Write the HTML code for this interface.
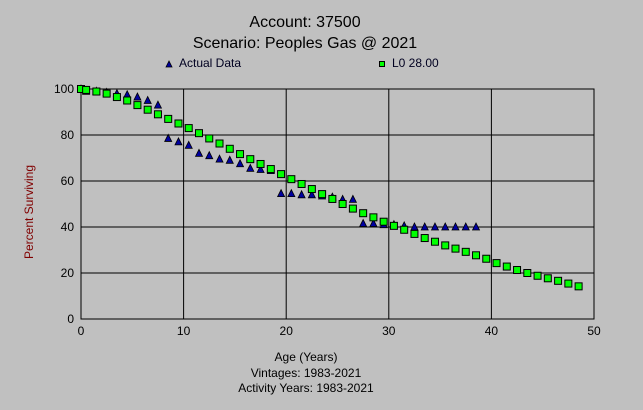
<!DOCTYPE html>
<html><head><meta charset="utf-8"><style>
body{margin:0;background:#c0c0c0;}
svg{display:block;font-family:"Liberation Sans",sans-serif;}
</style></head><body>
<svg id="chart" width="643" height="410" viewBox="0 0 643 410">
<rect width="643" height="410" fill="#c0c0c0"/>
<text x="305" y="27" text-anchor="middle" font-size="16">Account: 37500</text>
<text x="305" y="48" text-anchor="middle" font-size="16">Scenario: Peoples Gas @ 2021</text>
<g>
<g><path d="M166,67 L169,61 L172,67 Z" fill="#0000a0" stroke="#000" stroke-width="0.8"/><text x="179" y="67" font-size="12" fill="#000020">Actual Data</text></g>
<g><rect x="379.5" y="61.5" width="5" height="5" fill="#00ff00" stroke="#000"/><text x="392" y="67" font-size="12" fill="#000020">L0 28.00</text></g>
</g>
<g id="grid"></g>
<g id="marks"></g>
<text transform="translate(33,212) rotate(-90)" text-anchor="middle" font-size="12" fill="#800000">Percent Surviving</text>
<text x="306" y="361" text-anchor="middle" font-size="12">Age (Years)</text>
<text x="306" y="377" text-anchor="middle" font-size="12">Vintages: 1983-2021</text>
<text x="306" y="392" text-anchor="middle" font-size="12">Activity Years: 1983-2021</text>
</svg>
<script>
const xTicks=[0,10,20,30,40,50];
const yTicks=[0,20,40,60,80,100];
const ages=[0,0.5,1.5,2.5,3.5,4.5,5.5,6.5,7.5,8.5,9.5,10.5,11.5,12.5,13.5,14.5,15.5,16.5,17.5,18.5,19.5,20.5,21.5,22.5,23.5,24.5,25.5,26.5,27.5,28.5,29.5,30.5,31.5,32.5,33.5,34.5,35.5,36.5,37.5,38.5,39.5,40.5,41.5,42.5,43.5,44.5,45.5,46.5,47.5,48.5];
const actualData=[100,99,99,98.5,98,97.5,96.5,95,93,78.5,77,75.5,72,71,69.5,69,67.5,65.5,65,64.5,54.5,54.5,54,54,53.5,53,52,52,41.5,41.5,41,41,40.5,40,40,40,40,40,40,40];
const l0Curve=[100,99.6,98.9,98,96.5,95,93,91,89,87,85,83,80.8,78.5,76.3,74,71.7,69.5,67.4,65.2,63,60.8,58.7,56.5,54.3,52.2,50,48,46,44.2,42.3,40.5,38.8,37,35.2,33.6,32,30.6,29.2,27.7,26.2,24.3,22.8,21.3,20,18.8,17.7,16.6,15.4,14.2];
const X0=81,X1=594,Y0=319,Y1=89;
const sx=v=>X0+(v-0)/(50-0)*(X1-X0);
const sy=v=>Y0-(v-0)/(100-0)*(Y0-Y1);
const NS="http://www.w3.org/2000/svg";
const grid=document.getElementById('grid'),marks=document.getElementById('marks');
function mk(tag,attrs,parent){const e=document.createElementNS(NS,tag);for(const k in attrs)e.setAttribute(k,attrs[k]);parent.appendChild(e);return e;}
const frame=mk('rect',{x:X0,y:Y1,width:X1-X0,height:Y0-Y1,fill:'none',stroke:'#000','stroke-width':1},grid);


xTicks.forEach(t=>{
 const l=mk('line',{x1:sx(t),x2:sx(t),y1:Y1,y2:Y0,stroke:'#000','stroke-width':1},grid);
 
 
 const tx=mk('text',{x:sx(t),y:Y0+16,'text-anchor':'middle','font-size':12},grid);tx.textContent=t;
 
 
});
yTicks.forEach(t=>{
 const l=mk('line',{x1:X0,x2:X1,y1:sy(t),y2:sy(t),stroke:'#000','stroke-width':1},grid);
 
 
 const tx=mk('text',{x:X0-7,y:sy(t)+4,'text-anchor':'end','font-size':12},grid);tx.textContent=t;
 
 
});
actualData.forEach((v,i)=>{
 const x=sx(ages[i]),y=sy(v);
 const p=mk('path',{d:`M${x-3.5},${y+3} L${x},${y-4} L${x+3.5},${y+3} Z`,fill:'#0000a0',stroke:'#000','stroke-width':0.8},marks);
 
 
});
l0Curve.forEach((v,i)=>{
 const x=sx(ages[i]),y=sy(v);
 const r=mk('rect',{x:x-3.5,y:y-3.5,width:7,height:7,fill:'#00ff00',stroke:'#000','stroke-width':1},marks);
 
 
});
</script>
</body></html>
